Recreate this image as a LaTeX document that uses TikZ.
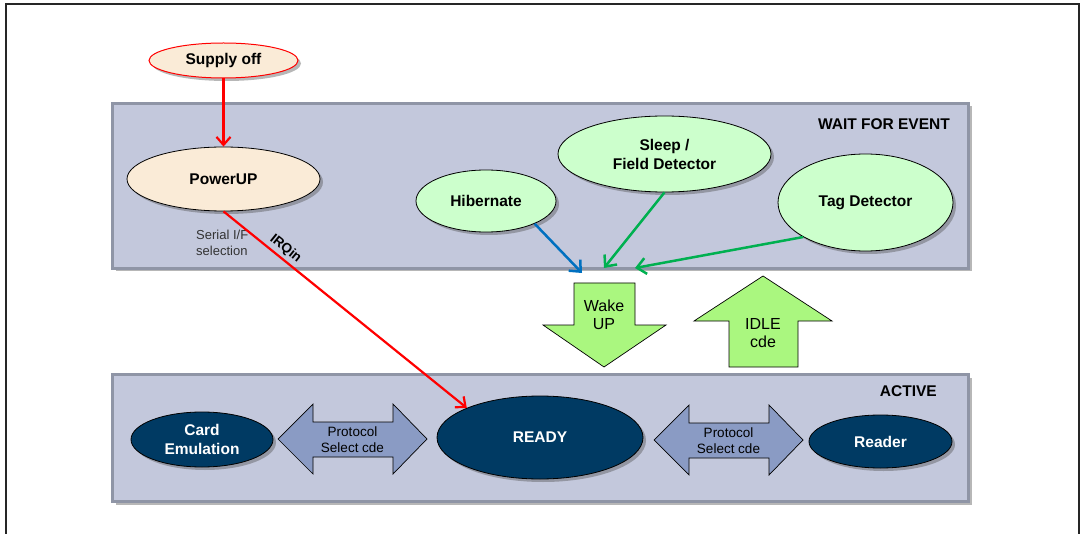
\documentclass[tikz,border=0pt]{standalone}
\usepackage{fontspec}
\setmainfont{Liberation Sans}
\usetikzlibrary{shapes.geometric,shadows,arrows.meta}

\definecolor{panelfill}{HTML}{C3C8DC}
\definecolor{panelline}{HTML}{8F95A6}
\definecolor{beige}{HTML}{FAEBD7}
\definecolor{lgreen}{HTML}{CCFFCC}
\definecolor{agreen}{HTML}{AAF77F}
\definecolor{navy}{HTML}{003A63}
\definecolor{protofill}{HTML}{8A9BC4}
\definecolor{cgreen}{HTML}{00B050}
\definecolor{cblue}{HTML}{0070C0}
\definecolor{txtgray}{HTML}{333333}

\begin{document}
\begin{tikzpicture}[x=1pt,y=-1pt,
  shad/.style={drop shadow={shadow xshift=3pt,shadow yshift=-3pt,fill=black!70,opacity=0.4}},
  panel/.style={rectangle,draw=panelline,line width=3pt,fill=panelfill,shad,inner sep=0pt},
  state/.style={ellipse,draw=black,line width=0.8pt,inner sep=0pt,align=center,
    font=\bfseries\fontsize{15.5}{19}\selectfont,shad},
  beigestate/.style={state,fill=beige},
  greenstate/.style={state,fill=lgreen},
  navystate/.style={state,fill=navy,text=white},
  blockarrow/.style={draw=black,line width=0.7pt},
  conn/.style={line width=2.5pt,-{Straight Barb[length=9pt,width=16pt,line width=2.5pt]}},
  redconn/.style={conn,draw=red,line width=2.2pt,-{Straight Barb[length=8pt,width=14pt,line width=2.2pt]}},
  paneltitle/.style={anchor=base east,inner sep=0pt,font=\bfseries\fontsize{15.5}{18}\selectfont},
  arrowtext/.style={align=center,inner sep=0pt,font=\fontsize{16}{18}\selectfont},
  prototext/.style={align=center,inner sep=0pt,font=\fontsize{13.5}{16}\selectfont}
]
\useasboundingbox (0,0) rectangle (1083,534);

% outer frame
\draw[line width=1.2pt,black!85] (6,534) -- (6,4) -- (1079,4) -- (1079,534);

% panels
\node[panel,minimum width=856pt,minimum height=165pt] (waitpanel) at (540.5,186) {};
\node[panel,minimum width=856pt,minimum height=127pt] (activepanel) at (540.5,438) {};
\node[paneltitle] (waittitle) at (950,130) {WAIT FOR EVENT};
\node[paneltitle] (activetitle) at (937,396) {ACTIVE};

% top states
\node[beigestate,draw=red,line width=1pt,minimum width=149pt,minimum height=35pt] (supply) at (223.5,60.5) {Supply off};
\node[beigestate,minimum width=193pt,minimum height=64pt] (power) at (223.5,179) {PowerUP};
\node[anchor=north west,align=left,inner sep=0pt,text=txtgray,font=\fontsize{13}{16}\selectfont] (serial) at (196,230) {Serial I/F\\selection};

\node[greenstate,minimum width=140pt,minimum height=62pt] (hib) at (486,201) {Hibernate};
\node[greenstate,minimum width=213pt,minimum height=76pt] (sleep) at (664.5,154) {Sleep /\\Field Detector};
\node[greenstate,minimum width=175pt,minimum height=97pt] (tag) at (865.5,202.5) {Tag Detector};

% bottom states
\node[navystate,minimum width=142pt,minimum height=55pt] (card) at (202,439.5) {Card\\Emulation};
\node[navystate,minimum width=206pt,minimum height=83pt] (ready) at (540,437.5) {READY};
\node[navystate,minimum width=143pt,minimum height=53pt] (reader) at (880.5,441.5) {Reader};

% wake up / idle block arrows
\draw[blockarrow,fill=agreen] (574,283) -- (635,283) -- (635,325) -- (666,325) -- (604,367) -- (543,325) -- (574,325) -- cycle;
\node[arrowtext] (wake) at (604,315) {Wake\\UP};
\draw[blockarrow,fill=agreen] (729,367) -- (798,367) -- (798,321) -- (832,321) -- (763,276) -- (694,321) -- (729,321) -- cycle;
\node[arrowtext] (idle) at (763,333) {IDLE\\cde};

% protocol double arrows
\draw[blockarrow,fill=protofill] (278,439) -- (313,404) -- (313,422) -- (393,422) -- (393,404) -- (427,439) -- (393,474) -- (393,457) -- (313,457) -- (313,474) -- cycle;
\node[prototext] (proto1) at (352.5,440) {Protocol\\Select cde};
\begin{scope}[xshift=376pt,yshift=-1pt]
\draw[blockarrow,fill=protofill] (278,439) -- (313,404) -- (313,422) -- (393,422) -- (393,404) -- (427,439) -- (393,474) -- (393,457) -- (313,457) -- (313,474) -- cycle;
\node[prototext] (proto2) at (352.5,440) {Protocol\\Select cde};
\end{scope}

% connectors
\coordinate (w1) at (582,273);
\coordinate (w2) at (604,268);
\coordinate (w3) at (635,268);

\draw[redconn] (supply.south) -- (power.north);
\draw[redconn] (power.south) -- (ready.158)
  node[sloped,above,pos=0.23,inner sep=2.5pt,text=black,font=\bfseries\fontsize{13.5}{16}\selectfont] (irq) {IRQin};
\draw[conn,draw=cblue] (hib.-25) -- (w1);
\draw[conn,draw=cgreen] (sleep.south) -- (w2);
\draw[conn,draw=cgreen] (tag.209) -- (w3);
\end{tikzpicture}
\end{document}
